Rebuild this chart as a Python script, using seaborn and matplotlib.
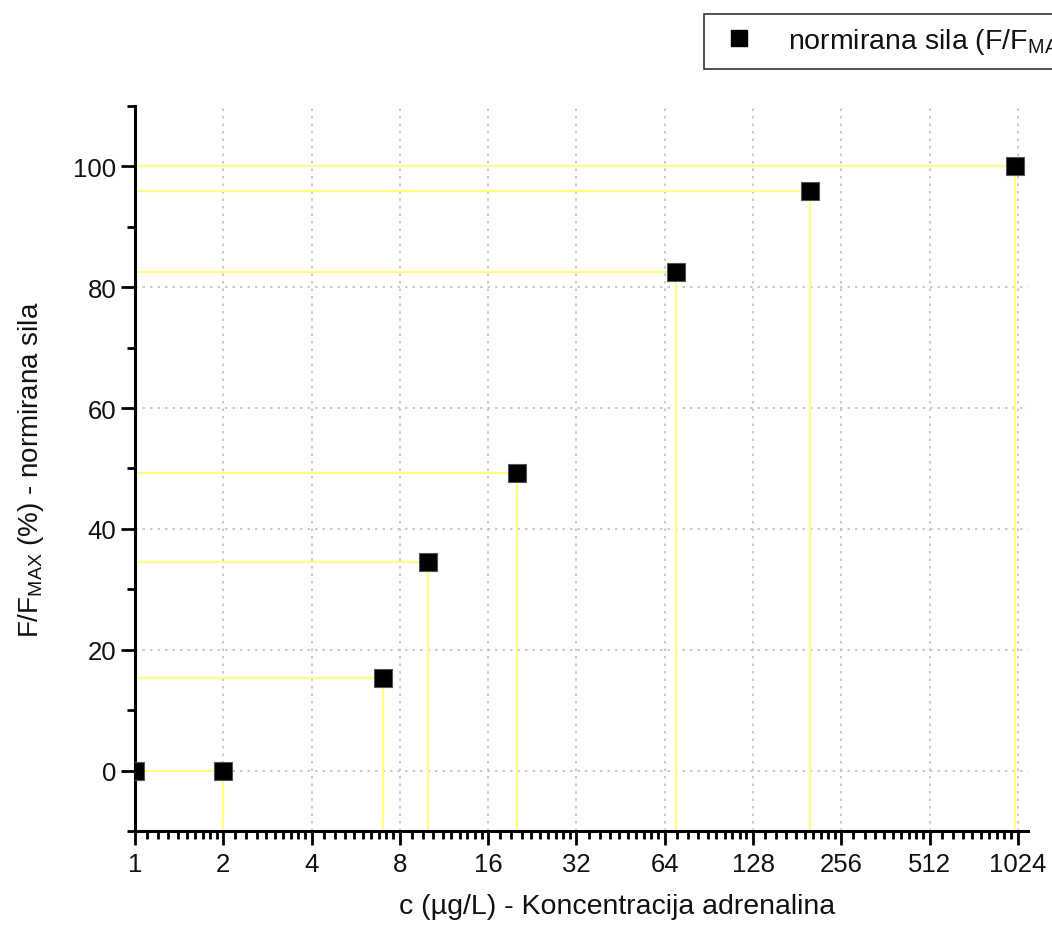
import numpy as np
import pandas as pd
import matplotlib
matplotlib.use('Agg')
import matplotlib.pyplot as plt
import matplotlib.ticker as mticker
import seaborn as sns

# podaci
koncentracija = [1, 2, 7, 10, 20, 70, 200, 1000]
sila = [0, 0, 15.3, 34.6, 49.3, 82.5, 96.0, 100.0]
x_ticks = [1, 2, 4, 8, 16, 32, 64, 128, 256, 512, 1024]
y_ticks = [0, 20, 40, 60, 80, 100]

df = pd.DataFrame({'c': koncentracija, 'F': sila})

sns.set_style('white')
plt.rcParams['font.family'] = ['Liberation Sans', 'DejaVu Sans']
plt.rcParams['mathtext.fontset'] = 'custom'
plt.rcParams['mathtext.rm'] = 'Liberation Sans'

fig = plt.figure(figsize=(10.52, 9.37), dpi=100)
ax = fig.add_axes([0.1283, 0.1121, 0.8487, 0.7737])

ax.set_xscale('log', base=2)
ax.set_xlim(1, 1107)
ax.set_ylim(-10, 110)

# zute pomocne linije do osi
ax.hlines(df['F'], 1, df['c'], color='#ffff80', lw=1.6, zorder=2)
ax.vlines(df['c'], -10, df['F'], color='#ffff80', lw=1.6, zorder=2)

sns.scatterplot(data=df, x='c', y='F', marker='s', s=165, color='black',
                edgecolor='#555555', linewidth=0.8, ax=ax, zorder=5,
                legend=False)

ax.xaxis.set_major_locator(mticker.FixedLocator(x_ticks))
ax.xaxis.set_major_formatter(mticker.FixedFormatter([str(t) for t in x_ticks]))
minor = []
for t in x_ticks:
    for i in range(1, 10):
        minor.append(t * (1 + i / 10))
ax.xaxis.set_minor_locator(mticker.FixedLocator(minor))
ax.xaxis.set_minor_formatter(mticker.NullFormatter())
ax.yaxis.set_major_locator(mticker.FixedLocator(y_ticks))
ax.yaxis.set_minor_locator(mticker.MultipleLocator(10))
ax.yaxis.set_minor_formatter(mticker.NullFormatter())

ax.grid(True, which='major', color='#c0c0c0', linestyle=(0, (1.5, 3)), lw=1.2)
ax.set_axisbelow(True)

for s in ['top', 'right']:
    ax.spines[s].set_visible(False)
for s in ['left', 'bottom']:
    ax.spines[s].set_color('black')
    ax.spines[s].set_linewidth(2.2)

ax.tick_params(axis='both', which='major', direction='out', length=10, width=2,
               labelsize=18.5, color='black', labelcolor='#111111',
               left=True, bottom=True)
ax.tick_params(axis='both', which='minor', direction='out', length=6, width=2,
               color='black', left=True, bottom=True)
ax.tick_params(axis='x', pad=5)

ax.set_xlabel('c (µg/L) - Koncentracija adrenalina', fontsize=20.5,
              color='#111111')
ax.xaxis.set_label_coords(0.54, -0.085)
ax.set_ylabel(r'F/F$_{\mathrm{MAX}}$ (%) - normirana sila', fontsize=20,
              color='#111111')
ax.yaxis.set_label_coords(-0.1, 0.5)

h = [plt.Line2D([], [], marker='s', ls='', color='black', markersize=12)]
leg = fig.legend(h, [r'normirana sila (F/F$_{\mathrm{MAX}}$)'], loc='upper left',
                 bbox_to_anchor=(0.6555, 0.9996), fontsize=20.5, frameon=True,
                 fancybox=False, edgecolor='black', borderpad=0.45,
                 handletextpad=0.9, handlelength=1.6)
leg.get_frame().set_linewidth(1.2)
for t in leg.get_texts():
    t.set_color('#111111')

fig.savefig('out.png', dpi=100)
